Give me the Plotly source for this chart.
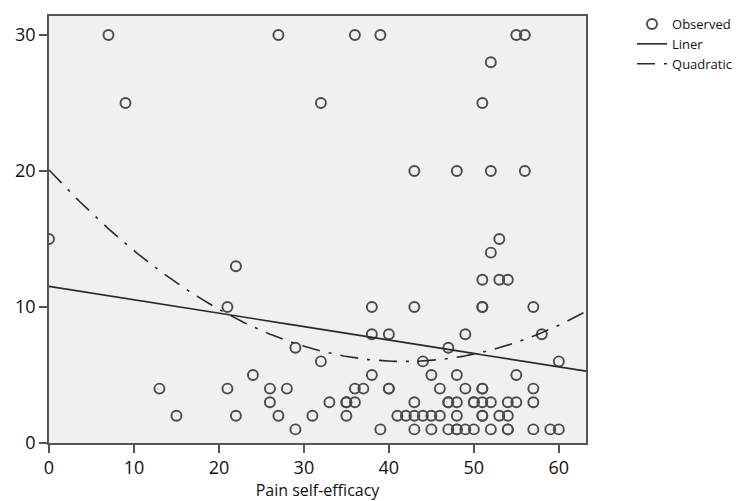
import numpy as np
import plotly.graph_objects as go

# Observed points (Pain self-efficacy, outcome)
efficacy = [
    7, 27, 36, 39, 55, 56,
    52,
    9, 32, 51,
    43, 48, 52, 56,
    0, 53,
    52,
    22,
    51, 53, 54,
    21, 38, 43, 51, 51, 57,
    38, 40, 49, 58,
    29, 47,
    32, 44, 60,
    24, 38, 45, 48, 55,
    13, 21, 26, 28, 36, 37, 40, 40, 46, 49, 51, 51, 57,
    26, 33, 35, 35, 36, 43, 47, 47, 48, 50, 50, 51, 52, 54, 55, 57,
    15, 22, 27, 31, 35, 41, 42, 43, 44, 45, 46, 48, 51, 51, 53, 54,
    29, 39, 43, 45, 47, 48, 48, 49, 50, 52, 54, 54, 57, 59, 60,
]
outcome = (
    [30] * 6 + [28] + [25] * 3 + [20] * 4 + [15] * 2 + [14] + [13]
    + [12] * 3 + [10] * 6 + [8] * 4 + [7] * 2 + [6] * 3 + [5] * 5
    + [4] * 13 + [3] * 16 + [2] * 16 + [1] * 15
)

# Fitted curves (coefficients, highest power first)
linear_coef = [-0.0987, 11.52]
quad_coef = [0.00806, -0.674, 20.08]

x_range = [0, 63.2]
y_range = [0, 31.4]
x_ticks = [0, 10, 20, 30, 40, 50, 60]
y_ticks = [0, 10, 20, 30]

x_fit = np.linspace(x_range[0], x_range[1], 300)

fig = go.Figure()
fig.add_trace(go.Scatter(
    x=efficacy, y=outcome, mode="markers", name="Observed",
    marker=dict(symbol="circle-open", size=10, color="#4a4a4a",
                line=dict(width=1.9, color="#4a4a4a")),
))
fig.add_trace(go.Scatter(
    x=x_fit, y=np.polyval(linear_coef, x_fit), mode="lines", name="Liner",
    line=dict(color="#2a2a2a", width=1.6),
))
fig.add_trace(go.Scatter(
    x=x_fit, y=np.polyval(quad_coef, x_fit), mode="lines", name="Quadratic",
    line=dict(color="#2a2a2a", width=1.6, dash="18px,9px,3px,9px"),
))

axis_common = dict(
    showgrid=False, zeroline=False, showline=True, mirror=True,
    linecolor="#555555", linewidth=1.5, ticks="outside", ticklen=8,
    tickwidth=1.5, tickcolor="#555555", automargin=False,
    tickfont=dict(family="Open Sans", size=18, color="#111111"),
)

# The page body has an 8px margin, so the figure is sized to fit the window.
fig.update_layout(
    width=732, height=493,
    margin=dict(l=40.5, r=154, t=8, b=57.5, autoexpand=False),
    paper_bgcolor="white", plot_bgcolor="#F0F0F0",
    font=dict(family="Open Sans", color="#111111"),
    xaxis=dict(range=x_range, tickvals=x_ticks, **axis_common,
               title=dict(text="Pain self-efficacy",
                          font=dict(family="Open Sans", size=16, color="#111111"))),
    yaxis=dict(range=y_range, tickvals=y_ticks, **axis_common),
    legend=dict(xref="container", yref="container", x=0.8525, y=0.998,
                xanchor="left", yanchor="top", bgcolor="rgba(0,0,0,0)",
                font=dict(family="Open Sans", size=13, color="#111111"),
                itemwidth=30),
    showlegend=True,
)

fig.write_html("out.html")
